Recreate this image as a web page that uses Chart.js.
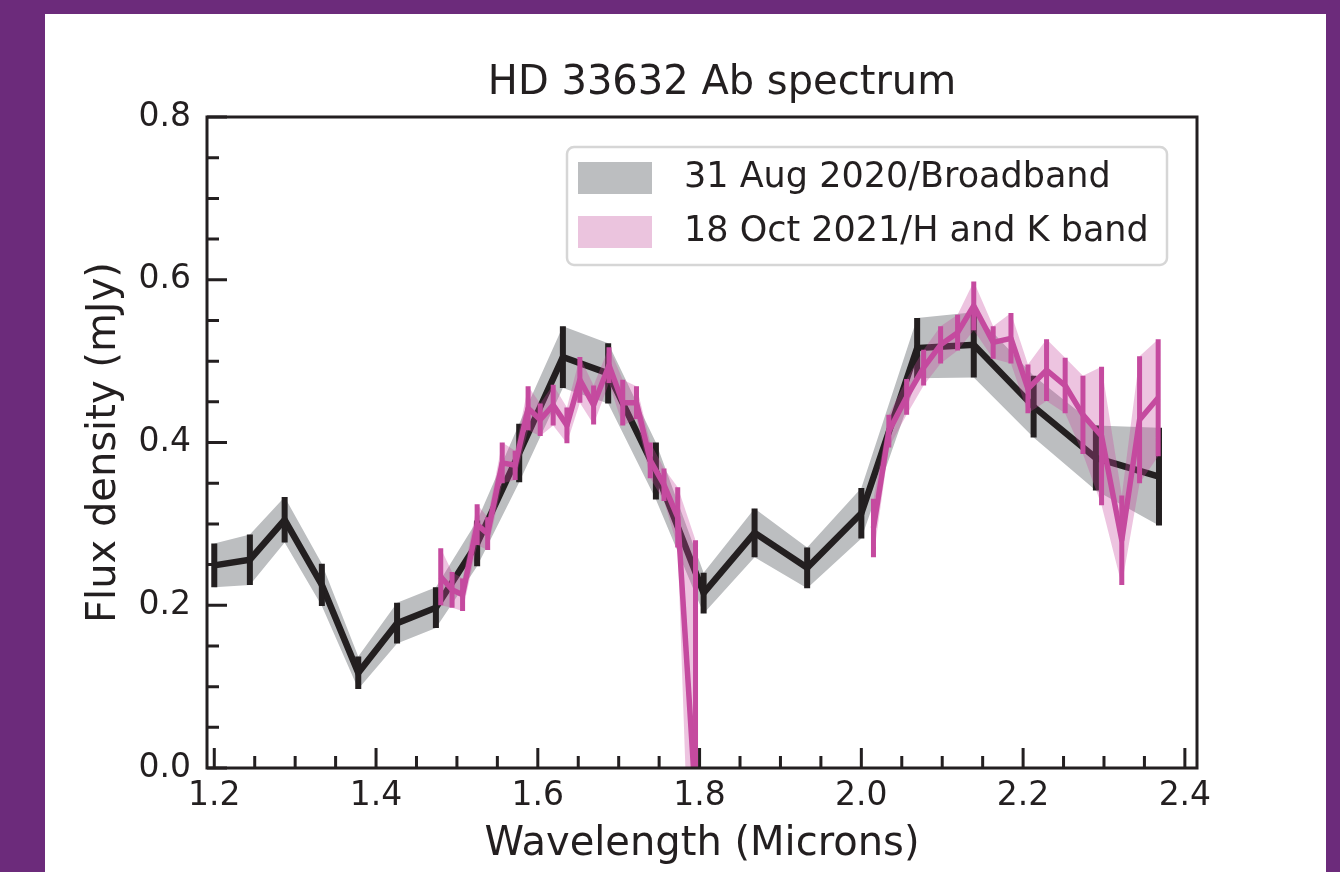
<!DOCTYPE html>
<html>
<head>
<meta charset="utf-8">
<title>HD 33632 Ab spectrum</title>
<script src="https://cdn.jsdelivr.net/npm/chart.js@4.4.1/dist/chart.umd.min.js"></script>
<style>
  html, body { margin: 0; padding: 0; }
  body { width: 1340px; height: 872px; background: #6c2b7b; position: relative; overflow: hidden; }
  #panel { position: absolute; left: 45px; top: 14px; width: 1281px; height: 858px; background: #fff; }
  #spec { position: absolute; left: 0; top: 0; }
</style>
</head>
<body>
<div id="panel"></div>
<canvas id="spec" width="1340" height="872"></canvas>
<script>
// 31 Aug 2020 / broadband
const bbWave = [1.200, 1.244, 1.287, 1.333, 1.378, 1.426, 1.474, 1.525, 1.577, 1.631, 1.687,
                1.746, 1.805, 1.868, 1.933, 2.000, 2.069, 2.139, 2.213, 2.290, 2.368];
const bbFlux = [0.249, 0.256, 0.305, 0.225, 0.117, 0.178, 0.197, 0.276, 0.387, 0.505, 0.485,
                0.365, 0.215, 0.289, 0.246, 0.313, 0.516, 0.520, 0.444, 0.381, 0.358];
const bbErr  = [0.027, 0.031, 0.028, 0.026, 0.020, 0.025, 0.025, 0.028, 0.036, 0.038, 0.037,
                0.035, 0.025, 0.030, 0.025, 0.031, 0.037, 0.040, 0.038, 0.040, 0.060];

// 18 Oct 2021 / H and K band (null = gap between the two bands)
const hkWave = [1.480, 1.494, 1.507, 1.525, 1.538, 1.556, 1.572, 1.588, 1.603, 1.619, 1.636,
                1.652, 1.669, 1.688, 1.705, 1.722, 1.739, 1.756, 1.773, 1.795,
                1.900,
                2.015, 2.034, 2.056, 2.077, 2.098, 2.119, 2.139, 2.163, 2.185, 2.206, 2.229,
                2.252, 2.274, 2.297, 2.322, 2.344, 2.367];
const hkFlux = [0.235, 0.219, 0.213, 0.299, 0.288, 0.375, 0.372, 0.442, 0.428, 0.446, 0.421,
                0.477, 0.446, 0.495, 0.449, 0.449, 0.378, 0.348, 0.308, -0.040,
                null,
                0.295, 0.414, 0.456, 0.492, 0.520, 0.535, 0.568, 0.523, 0.528, 0.466, 0.489,
                0.470, 0.434, 0.408, 0.280, 0.428, 0.455];
const hkErr  = [0.035, 0.022, 0.020, 0.025, 0.020, 0.025, 0.018, 0.027, 0.020, 0.025, 0.022,
                0.028, 0.024, 0.022, 0.028, 0.020, 0.022, 0.020, 0.037, 0.320,
                null,
                0.036, 0.020, 0.022, 0.022, 0.023, 0.022, 0.030, 0.020, 0.031, 0.030, 0.038,
                0.034, 0.048, 0.085, 0.055, 0.078, 0.072];

const seriesLabels = ['31 Aug 2020/Broadband', '18 Oct 2021/H and K band'];
const xTicks = [1.2, 1.4, 1.6, 1.8, 2.0, 2.2, 2.4];
const yTicks = [0.0, 0.2, 0.4, 0.6, 0.8];
const xMinorStep = 0.05;
const yMinorStep = 0.05;

const INK = '#231f20';
const GREY_BAND = '#bcbec0';
const MAGENTA = '#c54a9f';
const PINK_BAND = 'rgba(200, 70, 160, 0.32)';
const PINK_PATCH = '#ebc4de';
const FONT = "'DejaVu Sans', sans-serif";

// build {x, y} points from the arrays
function pts(xs, ys, errs, sign) {
  return xs.map((x, i) => ({
    x,
    y: ys[i] === null ? null : ys[i] + sign * (errs ? errs[i] : 0)
  }));
}

function bandDataset(data, order, extra) {
  return Object.assign({
    data, order,
    borderWidth: 0, pointRadius: 0, pointHoverRadius: 0,
    fill: false
  }, extra);
}

const datasets = [
  bandDataset(pts(bbWave, bbFlux, bbErr, -1), 6),
  bandDataset(pts(bbWave, bbFlux, bbErr, 1), 5, { fill: '-1', backgroundColor: GREY_BAND }),
  {
    label: seriesLabels[0],
    data: pts(bbWave, bbFlux, null, 0),
    order: 4,
    borderColor: INK, borderWidth: 6.5, pointRadius: 0,
    errBars: { xs: bbWave, ys: bbFlux, errs: bbErr, color: INK, width: 6 }
  },
  bandDataset(pts(hkWave, hkFlux, hkErr, -1), 3),
  bandDataset(pts(hkWave, hkFlux, hkErr, 1), 2, { fill: '-1', backgroundColor: PINK_BAND }),
  {
    label: seriesLabels[1],
    data: pts(hkWave, hkFlux, null, 0),
    order: 1,
    borderColor: MAGENTA, borderWidth: 5.5, pointRadius: 0,
    borderJoinStyle: 'round',
    errBars: { xs: hkWave, ys: hkFlux, errs: hkErr, color: MAGENTA, width: 5 }
  }
];

// vertical error bars, drawn right after their own line
const errorBars = {
  id: 'errorBars',
  afterDatasetDraw(chart, args) {
    const eb = chart.data.datasets[args.index].errBars;
    if (!eb) return;
    const { ctx, chartArea: a, scales: { x, y } } = chart;
    ctx.save();
    ctx.beginPath();
    ctx.rect(a.left, a.top, a.width, a.height);
    ctx.clip();
    ctx.strokeStyle = eb.color;
    ctx.lineWidth = eb.width;
    ctx.lineCap = 'butt';
    ctx.beginPath();
    eb.xs.forEach((xv, i) => {
      if (eb.ys[i] === null) return;
      const px = x.getPixelForValue(xv);
      ctx.moveTo(px, y.getPixelForValue(eb.ys[i] - eb.errs[i]));
      ctx.lineTo(px, y.getPixelForValue(eb.ys[i] + eb.errs[i]));
    });
    ctx.stroke();
    ctx.restore();
  }
};

// matplotlib-like frame with inward ticks
const frameTicks = {
  id: 'frameTicks',
  afterDatasetsDraw(chart) {
    const { ctx, chartArea: a, scales: { x, y } } = chart;
    ctx.save();
    ctx.strokeStyle = INK;
    ctx.lineWidth = 3;
    ctx.strokeRect(a.left, a.top, a.width, a.height);
    ctx.beginPath();
    const xFirst = xTicks[0], xLast = xTicks[xTicks.length - 1];
    const nx = Math.round((xLast - xFirst) / xMinorStep);
    for (let i = 0; i <= nx; i++) {
      const px = x.getPixelForValue(xFirst + i * xMinorStep);
      const len = i % 4 === 0 ? 20 : 12;
      ctx.moveTo(px, a.bottom);
      ctx.lineTo(px, a.bottom - len);
    }
    const yFirst = yTicks[0], yLast = yTicks[yTicks.length - 1];
    const ny = Math.round((yLast - yFirst) / yMinorStep);
    for (let i = 0; i <= ny; i++) {
      const py = y.getPixelForValue(yFirst + i * yMinorStep);
      const len = i % 4 === 0 ? 20 : 12;
      ctx.moveTo(a.left, py);
      ctx.lineTo(a.left + len, py);
    }
    ctx.stroke();
    ctx.restore();
  }
};

// legend box inside the axes, upper right
const boxLegend = {
  id: 'boxLegend',
  afterDraw(chart) {
    const { ctx, chartArea: a } = chart;
    const w = 600, h = 118;
    const left = a.right - 30 - w, top = a.top + 30;
    ctx.save();
    ctx.fillStyle = 'rgba(255,255,255,0.85)';
    ctx.strokeStyle = '#d6d6d6';
    ctx.lineWidth = 2.5;
    ctx.beginPath();
    ctx.roundRect(left, top, w, h, 7);
    ctx.fill();
    ctx.stroke();
    const colors = [GREY_BAND, PINK_PATCH];
    ctx.font = '35px ' + FONT;
    ctx.textBaseline = 'middle';
    seriesLabels.forEach((label, i) => {
      const cy = top + 31 + i * 54;
      ctx.fillStyle = colors[i];
      ctx.fillRect(left + 11, cy - 16, 74, 32);
      ctx.fillStyle = INK;
      ctx.fillText(label, left + 117, cy);
    });
    ctx.restore();
  }
};

// title, centred a little right of the axes
const plotTitle = {
  id: 'plotTitle',
  afterDraw(chart) {
    const { ctx, chartArea: a } = chart;
    ctx.save();
    ctx.font = '40px ' + FONT;
    ctx.fillStyle = INK;
    ctx.textAlign = 'center';
    ctx.textBaseline = 'middle';
    ctx.fillText('HD 33632 Ab spectrum', (a.left + a.right) / 2 + 20, a.top - 33);
    ctx.restore();
  }
};

new Chart(document.getElementById('spec'), {
  type: 'line',
  data: { datasets },
  options: {
    responsive: false,
    animation: false,
    layout: { padding: { left: 48, right: 143, top: 117, bottom: 0 } },
    plugins: {
      legend: { display: false },
      tooltip: { enabled: false },
      title: { display: false }
    },
    scales: {
      x: {
        type: 'linear',
        min: 1.191,
        max: 2.415,
        afterFit(s) { s.height = 104; },
        afterBuildTicks(s) { s.ticks = xTicks.map(v => ({ value: v })); },
        grid: { display: false, drawTicks: false },
        border: { display: false },
        ticks: {
          padding: 9, maxRotation: 0, autoSkip: false, color: INK,
          font: { family: FONT, size: 33 },
          callback: v => Number(v).toFixed(1)
        },
        title: {
          display: true, text: 'Wavelength (Microns)', color: INK,
          font: { family: FONT, size: 40 }, padding: { top: 0, bottom: 3 }
        }
      },
      y: {
        type: 'linear',
        min: 0,
        max: 0.8,
        afterFit(s) { s.width = 159; },
        afterBuildTicks(s) { s.ticks = yTicks.map(v => ({ value: v })); },
        grid: { display: false, drawTicks: false },
        border: { display: false },
        ticks: {
          padding: 16, color: INK,
          font: { family: FONT, size: 33 },
          callback: v => Number(v).toFixed(1)
        },
        title: {
          display: true, text: 'Flux density (mJy)', color: INK,
          font: { family: FONT, size: 40 }, padding: { top: 33, bottom: 0 }
        }
      }
    }
  },
  plugins: [errorBars, frameTicks, boxLegend, plotTitle]
});
</script>
</body>
</html>
